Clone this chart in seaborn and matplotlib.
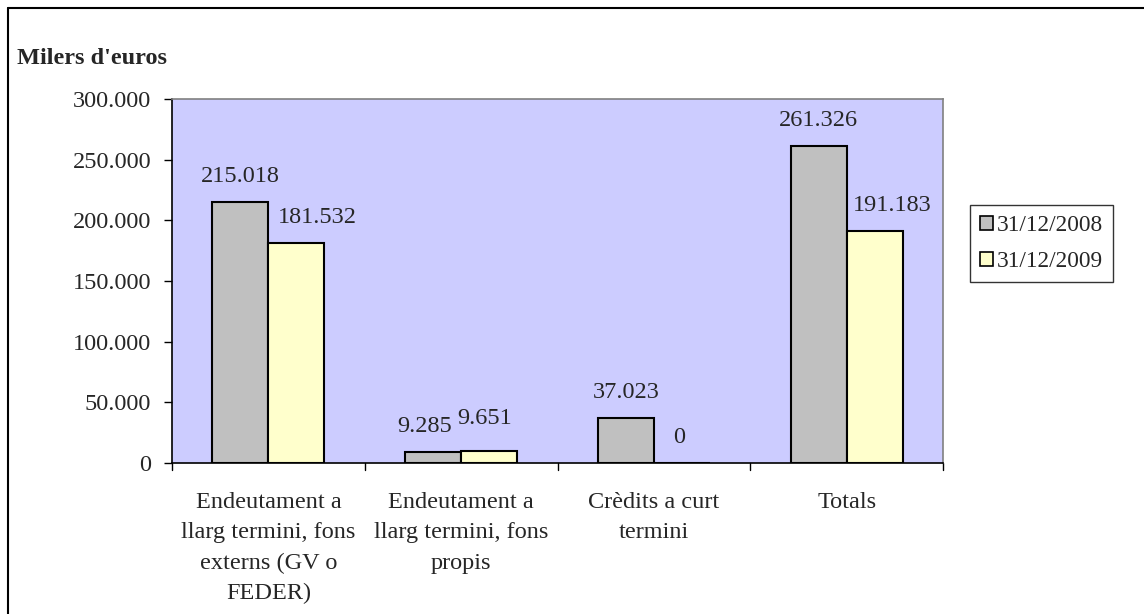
import matplotlib
matplotlib.use("Agg")
import matplotlib.pyplot as plt
from matplotlib.patches import Patch
from matplotlib.lines import Line2D
import pandas as pd
import seaborn as sns

# data (milers d'euros)
categories = [
    "Endeutament a\nllarg termini, fons\nexterns (GV o\nFEDER)",
    "Endeutament a\nllarg termini, fons\npropis",
    "Crèdits a curt\ntermini",
    "Totals",
]
series = ["31/12/2008", "31/12/2009"]
values_2008 = [215018, 9285, 37023, 261326]
values_2009 = [181532, 9651, 0, 191183]
y_ticks = [0, 50000, 100000, 150000, 200000, 250000, 300000]

colors = ["#C0C0C0", "#FFFFCC"]

# label nudges in pixels (series, category) -> (dx, dy), like Excel's placement
nudges = {(0, 1): (-9, 0), (1, 0): (21, 0), (1, 1): (-4, 7),
          (1, 2): (-3, 0), (1, 3): (18, 0)}


def fmt(v):
    return f"{v:,.0f}".replace(",", ".")


df = pd.DataFrame({
    "cat": categories * 2,
    "serie": [series[0]] * 4 + [series[1]] * 4,
    "val": values_2008 + values_2009,
})

sns.set_theme(style="white")
plt.rcParams["font.family"] = ["Liberation Serif", "DejaVu Serif"]
FS = 17.5

fig = plt.figure(figsize=(11.44, 6.14), dpi=100)
W, H = 1144, 614
ax = fig.add_axes([172 / W, 1 - 463 / H, (943 - 172) / W, (463 - 99) / H])
ax.set_facecolor("#CCCCFF")

sns.barplot(data=df, x="cat", y="val", hue="serie", palette=colors,
            width=0.58, edgecolor="black", linewidth=1.5, saturation=1,
            legend=False, ax=ax)

ax.set_ylim(0, 300000)
ax.set_xlim(-0.5, 3.5)
ax.set_yticks(y_ticks)
ax.set_yticklabels([fmt(t) for t in y_ticks], fontsize=FS)
ax.set_xticks([])
ax.set_xlabel("")
ax.set_ylabel("")
ax.tick_params(axis="y", direction="out", length=6, width=1, color="black",
               pad=9, left=True)

# category labels and separator ticks below the axis
for i, c in enumerate(categories):
    ax.text(i, -0.08, c, transform=ax.get_xaxis_transform(), ha="center",
            va="top", fontsize=FS, linespacing=1.58)
for b in [-0.5, 0.5, 1.5, 2.5, 3.5]:
    ax.add_line(Line2D([b, b], [0, -0.02], transform=ax.get_xaxis_transform(),
                       color="black", lw=1, clip_on=False))

for s in ["left", "bottom"]:
    ax.spines[s].set_color("black")
    ax.spines[s].set_linewidth(1.2)
for s in ["top", "right"]:
    ax.spines[s].set_color("#808080")
    ax.spines[s].set_linewidth(1.2)

# value labels
for si, cont in enumerate(ax.containers):
    for ci, p in enumerate(cont):
        h = p.get_height()
        dx, dy = nudges.get((si, ci), (0, 0))
        ax.annotate(fmt(h), (p.get_x() + p.get_width() / 2, h),
                    xytext=(dx * 0.72, (20 + dy) * 0.72),
                    textcoords="offset points",
                    ha="center", va="baseline", fontsize=FS)

fig.text(17 / W, 1 - 58 / H, "Milers d'euros", fontsize=FS, fontweight="bold",
         ha="left", va="center")

handles = [Patch(facecolor=c, edgecolor="black", linewidth=1.2) for c in colors]
leg = fig.legend(handles, series, loc="upper left",
                 bbox_to_anchor=(970 / W, 1 - 205 / H), fontsize=16.8,
                 frameon=True, fancybox=False, shadow=False, borderaxespad=0,
                 handlelength=0.55, handleheight=0.55, handletextpad=0.2,
                 labelspacing=0.66, borderpad=0.42)
leg.get_frame().set_edgecolor("black")
leg.get_frame().set_linewidth(1)

# outer chart frame
fig.add_artist(Line2D([8 / W, 8 / W], [0, 1 - 8 / H], color="black", lw=1.5,
                      transform=fig.transFigure))
fig.add_artist(Line2D([8 / W, 1], [1 - 8 / H, 1 - 8 / H], color="black", lw=1.5,
                      transform=fig.transFigure))

fig.savefig("out.png", dpi=100, facecolor="white")
